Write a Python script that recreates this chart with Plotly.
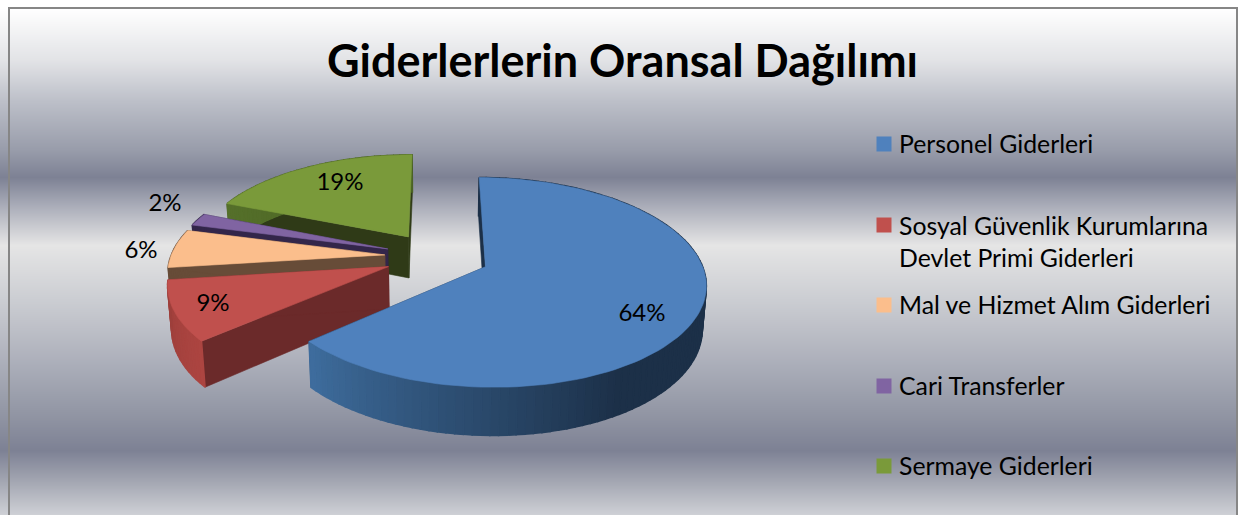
import math
import numpy as np
import plotly.graph_objects as go

W, H = 1238, 515
title = "Giderlerlerin Oransal Dağılımı"
categories = ["Personel Giderleri", "Sosyal Güvenlik Kurumlarına<br>Devlet Primi Giderleri",
              "Mal ve Hizmet Alım Giderleri", "Cari Transferler", "Sermaye Giderleri"]
values = [63.6, 9.4, 6.1, 2.0, 18.9]
top_colors = ["#4F81BD", "#C0504D", "#FBBE8C", "#8064A2", "#7A9A3A"]
cut_colors = ["#1C3048", "#6B2A2A", "#674C38", "#33264A", "#2F3A17"]
arc_near = ["#3F6E9F", "#AD4541", "#674C38", "#33264A", "#55702A"]
arc_far = ["#1C3048", "#9C3F3B", "#674C38", "#33264A", "#4A6224"]
label_pos = [(642, 315), (213, 305), (141, 252), (165, 205), (340, 184)]
legend_y = [144, 225, 305, 386, 466]

bg_y = [8, 60, 100, 150, 177, 205, 245, 300, 360, 420, 450, 480, 515]
bg_c = ["#FFFFFF", "#E2E3E6", "#BDC0C9", "#989CAA", "#7D8194", "#A9ACB8", "#E5E5E5",
        "#CBCDD2", "#ADB0BB", "#8E92A1", "#7D8194", "#A2A5B1", "#CFD1D6"]

# Projection of the tilted pie
CX, CY, RX, RY, K, EXPLODE, DEPTH, BOTTOM = 437, 256.5, 214, 99.5, 0.147, 0.245, 42, 0.985


def project(u, v, low=False):
    w = 1 + K * v
    s = BOTTOM if low else 1.0
    return CX + RX * u / w * s, CY - RY * v / w * s + (DEPTH / w if low else 0)


def mix(a, b, t):
    ca = [int(a[i:i + 2], 16) for i in (1, 3, 5)]
    cb = [int(b[i:i + 2], 16) for i in (1, 3, 5)]
    return "rgb(%d,%d,%d)" % tuple(round(x + (y - x) * t) for x, y in zip(ca, cb))


def poly(xs, ys, color, lw=0.6):
    return go.Scatter(x=xs, y=ys, mode="lines", fill="toself", fillcolor=color,
                      line=dict(color=color, width=lw), hoverinfo="skip", showlegend=False)


fig = go.Figure()
rows = np.arange(8, 516)
lo, hi = bg_y[0], bg_y[-1]
fig.add_trace(go.Heatmap(x=[9, 1237], y=rows, z=[[r, r] for r in rows], showscale=False,
                         zmin=lo, zmax=hi, hoverinfo="skip",
                         colorscale=[[(y - lo) / (hi - lo), c] for y, c in zip(bg_y, bg_c)]))

total = sum(values)
bounds = np.cumsum([0] + values) / total * 2 * math.pi
for i in [4, 3, 2, 1, 0]:
    a0, a1 = bounds[i], bounds[i + 1]
    mid = (a0 + a1) / 2
    ou, ov = EXPLODE * math.sin(mid), EXPLODE * math.cos(mid)
    n = max(3, int(math.degrees(a1 - a0) / 2.0))
    th = np.linspace(a0, a1, n + 1)
    rim_u = [ou + math.sin(t) for t in th]
    rim_v = [ov + math.cos(t) for t in th]
    # radial cut faces
    for a in (a0, a1):
        pu, pv = ou + math.sin(a), ov + math.cos(a)
        p = [project(ou, ov), project(pu, pv), project(pu, pv, True), project(ou, ov, True)]
        fig.add_trace(poly([q[0] for q in p] + [p[0][0]], [q[1] for q in p] + [p[0][1]], cut_colors[i]))
    # outer wall strips
    for j in range(n):
        tm = (th[j] + th[j + 1]) / 2
        deg = math.degrees(tm)
        t = min(1.0, max(0.0, (deg - 150) / 80)) if i == 0 else (j + 0.5) / n
        col = mix(arc_far[i], arc_near[i], t) if i == 0 else mix(arc_near[i], arc_far[i], t)
        p = [project(rim_u[j], rim_v[j]), project(rim_u[j + 1], rim_v[j + 1]),
             project(rim_u[j + 1], rim_v[j + 1], True), project(rim_u[j], rim_v[j], True)]
        fig.add_trace(poly([q[0] for q in p] + [p[0][0]], [q[1] for q in p] + [p[0][1]], col, 1.5))
    # top face
    p = [project(ou, ov)] + [project(u, v) for u, v in zip(rim_u, rim_v)] + [project(ou, ov)]
    fig.add_trace(poly([q[0] for q in p], [q[1] for q in p], top_colors[i]))

FONT = "Lato, Carlito, Calibri, sans-serif"
# percentage labels
fig.add_trace(go.Scatter(x=[p[0] for p in label_pos], y=[p[1] for p in label_pos], mode="text",
                         text=["%d%%" % round(v / total * 100) for v in values],
                         textfont=dict(family=FONT, size=24, color="#000000"),
                         hoverinfo="skip", showlegend=False))
# legend
fig.add_trace(go.Scatter(x=[884] * 5, y=legend_y, mode="markers",
                         marker=dict(symbol="square", size=15, color=top_colors, line=dict(width=0)),
                         hoverinfo="skip", showlegend=False))
for name, y in zip(categories, legend_y):
    fig.add_annotation(x=897, y=y - 1, xref="x", yref="y", text=name, showarrow=False, xanchor="left",
                       yanchor="top" if "<br>" in name else "middle", yshift=15 if "<br>" in name else 0,
                       align="left", font=dict(family=FONT, size=24.8, color="#000000"))
fig.add_annotation(x=622, y=60, xref="x", yref="y", text="<b>%s</b>" % title, showarrow=False,
                   font=dict(family=FONT, size=45, color="#000000"))

fig.update_layout(
    width=W, height=H, autosize=False, margin=dict(l=0, r=0, t=0, b=0),
    paper_bgcolor="#FFFFFF", plot_bgcolor="#FFFFFF", showlegend=False,
    xaxis=dict(range=[0, W], visible=False, fixedrange=True),
    yaxis=dict(range=[H, 0], visible=False, fixedrange=True),
    shapes=[dict(type="rect", xref="x", yref="y", x0=9, y0=8, x1=1237, y1=520,
                 line=dict(color="#868686", width=2), layer="above")],
)
fig.write_html("out.html", config={"displayModeBar": False},
               post_script="document.body.style.margin='0';document.documentElement.style.overflow='hidden';")
